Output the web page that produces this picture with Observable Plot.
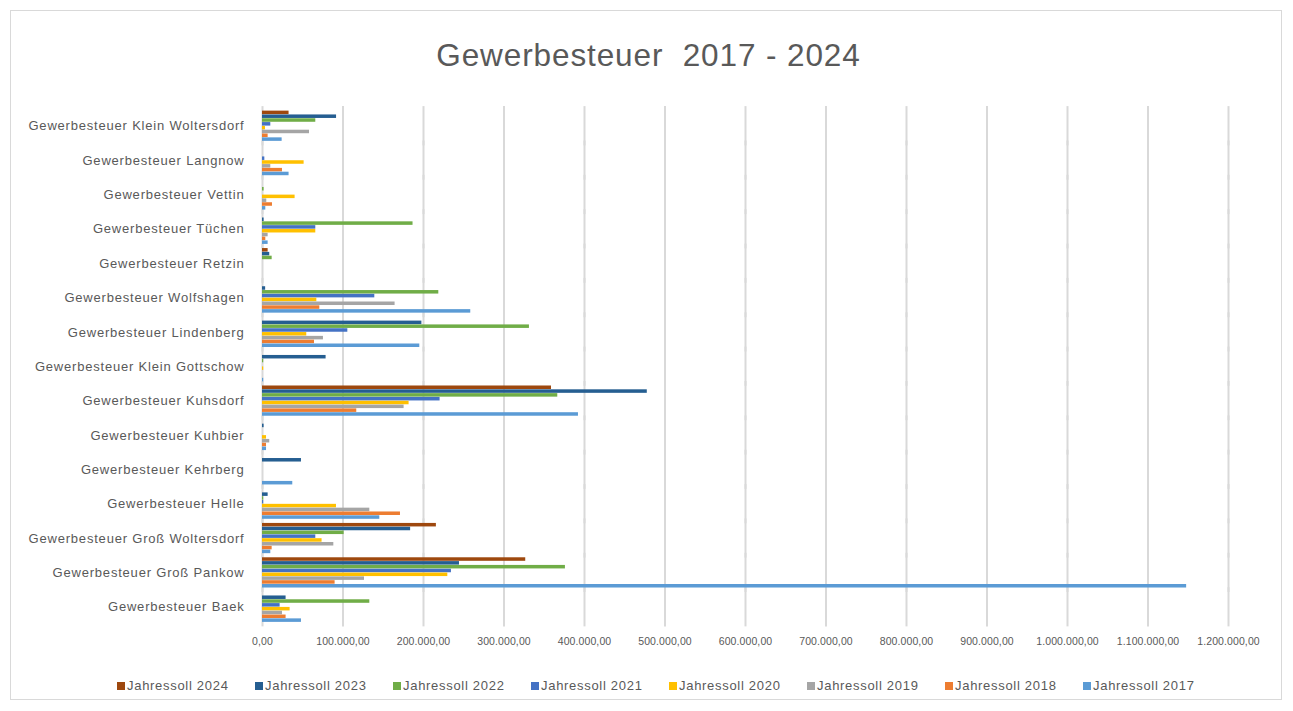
<!DOCTYPE html>
<html>
<head>
<meta charset="utf-8">
<script src="https://cdn.jsdelivr.net/npm/d3@7"></script>
<script src="https://cdn.jsdelivr.net/npm/@observablehq/plot@0.6"></script>
<style>
  html, body { margin: 0; padding: 0; background: #ffffff; }
  body { width: 1293px; height: 711px; position: relative; overflow: hidden; font-family: "Liberation Sans", Arial, sans-serif; }
  #frame { position: absolute; left: 10px; top: 10px; width: 1272px; height: 690px; border: 1px solid #d9d9d9; box-sizing: border-box; }
  #title { position: absolute; left: 0; width: 1297px; top: 36px; text-align: center; font-size: 31.5px; line-height: 38px; color: #595959; letter-spacing: 0.9px; }
  #chart { position: absolute; left: 0; top: 95px; line-height: 0; }
  #chart svg { display: block; }
  #chart text { fill: #595959; }
  #chart g[aria-label="fy-axis tick label"] text { letter-spacing: 0.8px; }
  #chart g[aria-label="x-axis tick label"] text { letter-spacing: 0.1px; }
  #legend { position: absolute; left: 117px; top: 678px; display: flex; }
  .item { width: 138px; display: flex; align-items: center; font-size: 13px; color: #595959; letter-spacing: 0.7px; white-space: nowrap; }
  .sw { width: 8px; height: 8px; margin-right: 2px; display: inline-block; }
</style>
</head>
<body>
<div id="frame"></div>
<div id="title">Gewerbesteuer&nbsp; 2017 - 2024</div>
<div id="chart"></div>
<div id="legend"></div>
<script>
// Categories, top to bottom as shown
const categories = [
  "Gewerbesteuer Klein Woltersdorf",
  "Gewerbesteuer Langnow",
  "Gewerbesteuer Vettin",
  "Gewerbesteuer Tüchen",
  "Gewerbesteuer Retzin",
  "Gewerbesteuer Wolfshagen",
  "Gewerbesteuer Lindenberg",
  "Gewerbesteuer Klein Gottschow",
  "Gewerbesteuer Kuhsdorf",
  "Gewerbesteuer Kuhbier",
  "Gewerbesteuer Kehrberg",
  "Gewerbesteuer Helle",
  "Gewerbesteuer Groß Woltersdorf",
  "Gewerbesteuer Groß Pankow",
  "Gewerbesteuer Baek"
];

// Series (legend order)
const series = ["Jahressoll 2024", "Jahressoll 2023", "Jahressoll 2022", "Jahressoll 2021",
                "Jahressoll 2020", "Jahressoll 2019", "Jahressoll 2018", "Jahressoll 2017"];
const seriesColors = ["#9E480E", "#255E91", "#70AD47", "#4472C4", "#FFC000", "#A5A5A5", "#ED7D31", "#5B9BD5"];

// Values per series, in category order
const jahressoll2024 = [33000, 0, 0, 0, 7000, 0, 0, 0, 359000, 0, 0, 0, 216000, 327000, 0];
const jahressoll2023 = [92000, 0, 0, 2000, 9000, 3900, 198000, 79000, 478000, 2000, 48400, 7000, 184000, 244700, 29300];
const jahressoll2022 = [66200, 0, 2000, 187000, 12000, 219000, 331600, 1500, 366800, 0, 0, 1500, 101400, 376300, 133300];
const jahressoll2021 = [10300, 2900, 0, 66200, 0, 139500, 106000, 0, 220600, 0, 0, 1500, 66200, 234700, 21900];
const jahressoll2020 = [3700, 51700, 40500, 66200, 0, 67500, 55000, 1500, 182100, 5000, 0, 91900, 74000, 230200, 34300];
const jahressoll2019 = [58400, 10300, 5300, 7000, 0, 164700, 75700, 0, 175900, 9000, 0, 133300, 88600, 126700, 24800];
const jahressoll2018 = [7000, 24800, 12400, 4100, 0, 71200, 64600, 0, 117100, 5000, 0, 171400, 12000, 90200, 29300];
const jahressoll2017 = [24400, 33000, 4100, 7000, 0, 258700, 195400, 1500, 392500, 5000, 37600, 145700, 10300, 1148000, 48400];

// Axis ticks
const xTicks = [0, 100000, 200000, 300000, 400000, 500000, 600000, 700000, 800000, 900000, 1000000, 1100000, 1200000];

const seriesValues = [jahressoll2024, jahressoll2023, jahressoll2022, jahressoll2021,
                      jahressoll2020, jahressoll2019, jahressoll2018, jahressoll2017];

const data = [];
series.forEach((s, si) => {
  categories.forEach((c, ci) => {
    data.push({category: c, series: s, value: seriesValues[si][ci]});
  });
});

const de = d3.formatLocale({decimal: ",", thousands: ".", grouping: [3], currency: ["", " €"]});
const fmt = de.format(",.2f");

const chart = Plot.plot({
  width: 1293,
  height: 566,
  marginLeft: 262,
  marginRight: 65,
  marginTop: 11.5,
  marginBottom: 35,
  style: {fontFamily: "Liberation Sans, Arial, sans-serif", color: "#595959", background: "transparent"},
  x: {domain: [0, 1200000], label: null},
  fy: {domain: categories, paddingInner: 0.12, paddingOuter: 0.12, round: false, label: null},
  y: {domain: series, paddingInner: 0.08, paddingOuter: 0, round: false, axis: null},
  color: {domain: series, range: seriesColors},
  marks: [
    Plot.gridX(xTicks, {stroke: "#d9d9d9", strokeOpacity: 1, strokeWidth: 2, insetTop: -4.5, insetBottom: -4.5}),
    Plot.barX(data, {x: "value", y: "series", fy: "category", fill: "series"}),
    Plot.axisFy({anchor: "left", tickSize: 0, tickPadding: 18, fontSize: 13, label: null}),
    Plot.axisX(xTicks, {anchor: "bottom", tickSize: 0, tickPadding: 15, fontSize: 10.5, tickFormat: fmt, label: null})
  ]
});
document.getElementById("chart").appendChild(chart);

const legend = document.getElementById("legend");
series.forEach((s, i) => {
  const item = document.createElement("div");
  item.className = "item";
  const sw = document.createElement("span");
  sw.className = "sw";
  sw.style.background = seriesColors[i];
  item.appendChild(sw);
  item.appendChild(document.createTextNode(s));
  legend.appendChild(item);
});
</script>
</body>
</html>
